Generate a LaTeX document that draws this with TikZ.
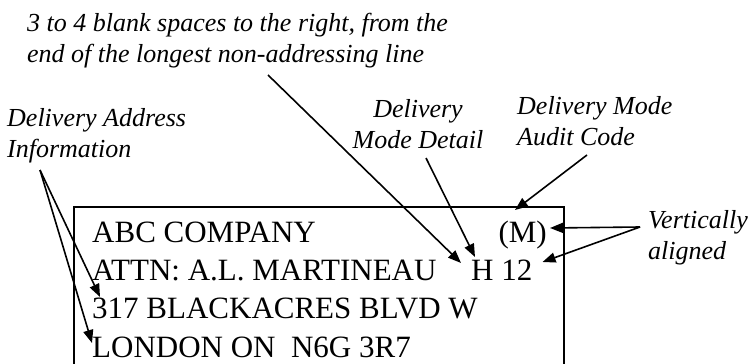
\documentclass[tikz,border=0pt]{standalone}
\usepackage{fontspec}
\setmainfont{Liberation Serif}[ItalicFont={Liberation Serif Italic}]
\usepackage{tikz}
\usetikzlibrary{arrows.meta}

\begin{document}
\begin{tikzpicture}[
        x=1pt, y=-1pt,
        addrline/.style={inner sep=0pt, anchor=base west, font=\fontsize{31}{38}\selectfont},
        note/.style={inner sep=0pt, anchor=base west, align=left, font=\itshape\fontsize{26}{31}\selectfont},
        arrow/.style={-{Triangle[length=13pt, width=10pt]}, line width=1.6pt, black}
    ]
        \useasboundingbox (0,0) rectangle (755,364);
        \clip (0,0) rectangle (755,364);

        % label envelope
        \draw[line width=1.6pt] (74,207) rectangle (564,400);
        \node[addrline] (company) at (92,242) {ABC COMPANY};
        \node[addrline, anchor=base east] (modecode) at (547,242) {(M)};
        \node[addrline] (attn) at (92,280) {ATTN: A.L. MARTINEAU};
        \node[addrline] (modedetail) at (471,280) {H 12};
        \node[addrline] (street) at (92,318) {317 BLACKACRES BLVD W};
        \node[addrline] (city) at (92,357) {LONDON ON\ \ N6G 3R7};

        % notes (base = last line)
        \node[note] (blanks) at (27,62) {3 to 4 blank spaces to the right, from the\\end of the longest non-addressing line};
        \node[note] (addrinfo) at (7,157) {Delivery Address\\Information};
        \node[note, anchor=base, align=center] (detailnote) at (418,148) {Delivery\\Mode Detail};
        \node[note] (auditnote) at (517,145) {Delivery Mode\\Audit Code};
        \node[note] (aligned) at (648,259) {Vertically\\aligned};

        % arrows
        \draw[arrow] ([shift={(241,13)}]blanks.base west) -- ([shift={(-10,-17)}]modedetail.base west);
        \draw[arrow] ([shift={(33,13)}]addrinfo.base west) -- ([shift={(8,-21)}]street.base west);
        \draw[arrow] ([shift={(33,13)}]addrinfo.base west) -- ([shift={(0,-14)}]city.base west);
        \draw[arrow] ([shift={(8,10)}]detailnote.base) -- ([shift={(4,-23)}]modedetail.base west);
        \draw[arrow] ([shift={(70,10)}]auditnote.base west) -- ([shift={(-32,-32)}]modecode.base east);
        \draw[arrow] ([shift={(-8,-32)}]aligned.base west) -- ([shift={(3,-14)}]modecode.base east);
        \draw[arrow] ([shift={(-8,-32)}]aligned.base west) -- ([shift={(10,-18)}]modedetail.base east);
    \end{tikzpicture}
\end{document}
